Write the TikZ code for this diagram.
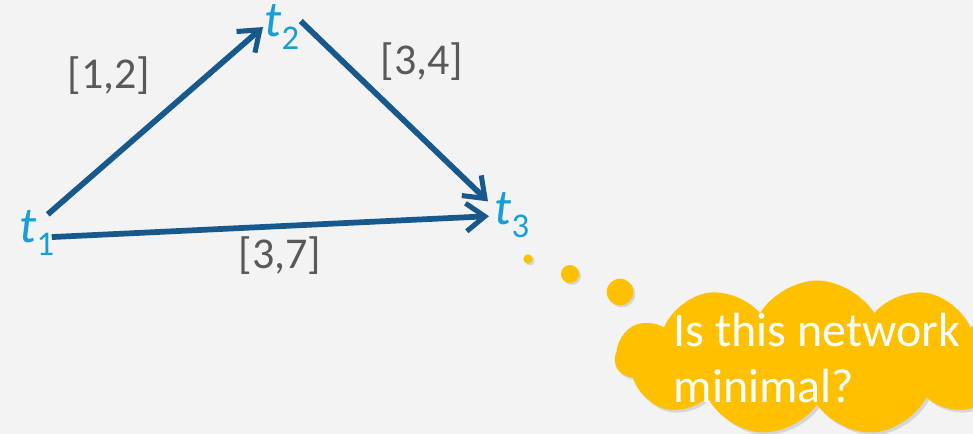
\documentclass[tikz,border=0pt]{standalone}
\usepackage{fontspec}
\setmainfont{Carlito}
\usetikzlibrary{arrows.meta,calc,positioning,shapes.symbols,shadows}
\definecolor{bgpanel}{HTML}{F3F3F3}
\definecolor{flowblue}{HTML}{17598C}
\definecolor{timeblue}{HTML}{169ED8}
\definecolor{labelgray}{HTML}{595959}
\definecolor{gold}{HTML}{FFC000}
\newcommand{\tpoint}[1]{{\itshape t}\raisebox{-0.24em}{\fontsize{26}{30}\selectfont #1}}
\tikzset{
  timenode/.style={inner sep=1pt,text=timeblue,font=\fontsize{38}{46}\selectfont,anchor=base west},
  boundlabel/.style={text=labelgray,font=\fontsize{33}{40}\selectfont,inner sep=0pt},
  flow/.style={-{Straight Barb[length=14pt,width=21pt,line width=3.8pt]},line width=4.3pt,draw=flowblue},
  bubble/.style={circle,fill=gold,inner sep=0pt,drop shadow={shadow xshift=1.5pt,shadow yshift=-1.5pt,opacity=0.25}},
  thought/.style={cloud,cloud puffs=11,cloud puff arc=120,cloud ignores aspect,fill=gold,text=white,
                  align=left,inner xsep=0pt,inner ysep=-9pt,font=\fontsize{36}{42}\selectfont,
                  drop shadow={shadow xshift=2pt,shadow yshift=-2pt,opacity=0.25}}
}
\begin{document}
\begin{tikzpicture}[x=0.75pt,y=-0.75pt]
  \fill[bgpanel] (0,0) rectangle (973,434);
  \useasboundingbox (0,0) rectangle (973,434);
  \node[timenode] (t1) at (18,243) {\tpoint{1}};
  \node[timenode] (t2) at (263,37) {\tpoint{2}};
  \node[timenode] (t3) at (493,225) {\tpoint{3}};
  \draw[flow] ($(t1.north east)+(-8,5)$) -- (t2.west);
  \draw[flow] ($(t2.east)+(0,-6)$) -- ($(t3.north west)+(-5,10)$);
  \draw[flow] ($(t1.east)+(-4,4)$) -- ($(t3.west)+(-4,1)$);
  \node[boundlabel] (b12) at (109,76) {[1,2]};
  \node[boundlabel] (b34) at (422,62) {[3,4]};
  \node[boundlabel] (b37) at (280,256) {[3,7]};
  \node[bubble,minimum size=7pt] (s1) at (528,259) {};
  \node[bubble,minimum size=13.5pt] (s2) at (570,274) {};
  \node[bubble,minimum size=20pt] (s3) at (620,292) {};
  \node[thought,minimum width=272pt] (ask) at (817,358) {Is this network\\minimal?};
\end{tikzpicture}
\end{document}
